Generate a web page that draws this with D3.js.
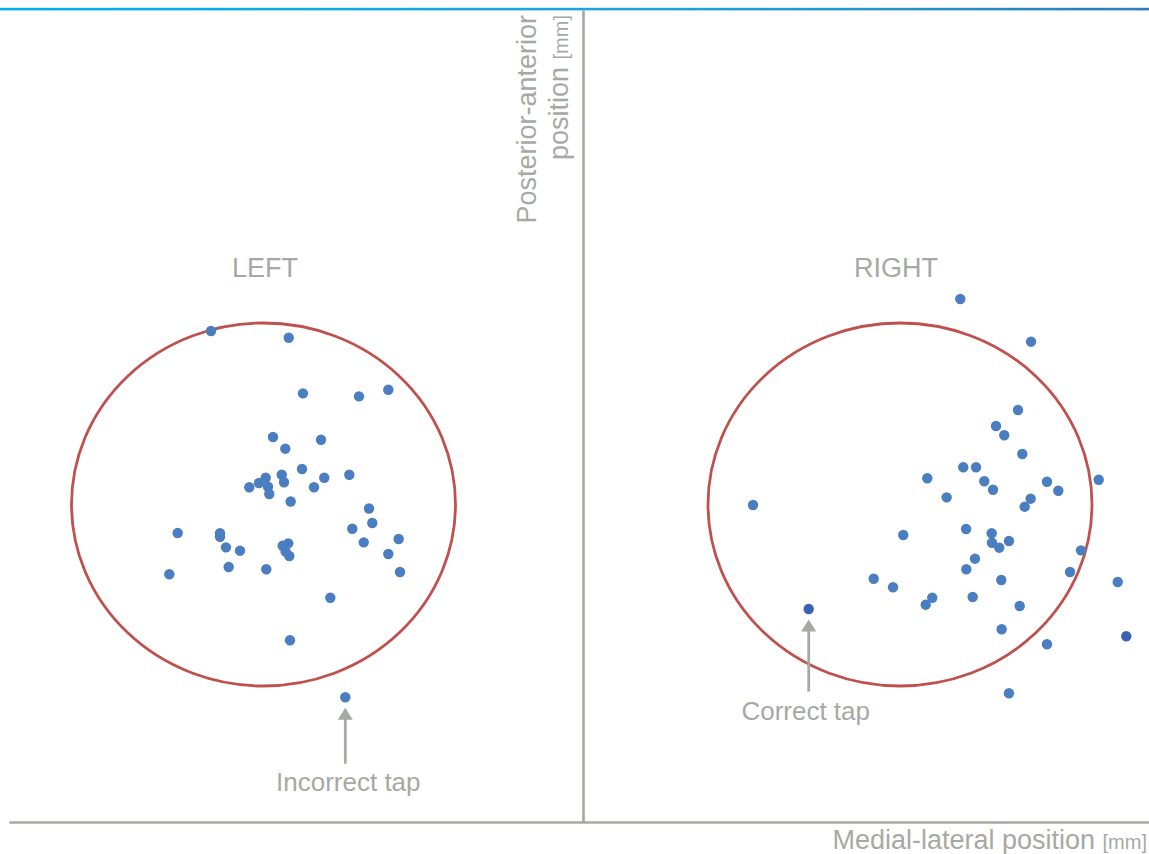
<!DOCTYPE html>
<html>
<head>
<meta charset="utf-8">
<script src="https://cdn.jsdelivr.net/npm/d3@7"></script>
<style>
  html, body { margin: 0; padding: 0; background: #ffffff; }
  svg { display: block; font-family: "Liberation Sans", Arial, Helvetica, sans-serif; }
</style>
</head>
<body>
<svg id="chart" width="1149" height="854"></svg>
<script>
// ---- Data (positions relative to target centre, mm) ----
const panels = ["LEFT", "RIGHT"];
const leftX = [-5.47, 2.63, 4.11, 9.95, 13.0, 0.99, 5.99, 2.27, 4.01, 8.94, 6.33, 1.90, 2.14, 0.23, -0.47, 0.47, -1.48, 0.60, 5.26, 2.83, 10.99, 11.33, 9.25, 14.08, 10.44, 13.0, 14.22, -8.94, -4.53, -4.53, -3.91, -2.45, -3.63, -9.81, 0.29, 2.0, 2.58, 2.31, 2.69, 6.96, 2.76, 8.52];
const leftY = [19.12, 18.38, 12.25, 11.92, 12.65, 7.44, 7.14, 6.15, 3.91, 3.28, 2.95, 3.28, 2.45, 2.95, 2.37, 1.96, 1.90, 1.16, 1.90, 0.33, -0.44, -2.04, -2.67, -3.80, -4.17, -5.45, -7.44, -3.14, -3.17, -3.55, -4.72, -5.09, -6.89, -7.69, -7.14, -4.54, -4.28, -5.20, -5.67, -10.27, -14.96, -21.24];
const rightX = [6.28, 13.65, 12.29, 10.0, 10.86, 12.74, 6.59, 7.92, 2.84, 8.78, 9.69, 15.31, 16.49, 20.70, 4.86, 13.61, 12.99, -15.31, 0.34, 6.88, 9.55, 9.58, 10.34, 11.35, 18.85, 7.81, 6.91, 17.71, 22.68, 10.55, -2.74, -0.73, 3.36, 2.68, 7.57, 12.47, -9.51, 10.59, 23.57, 15.31, 11.35];
const rightY = [22.64, 17.94, 10.41, 8.65, 7.63, 5.56, 4.10, 4.10, 2.89, 2.56, 1.63, 2.51, 1.52, 2.73, 0.79, 0.64, -0.24, -0.06, -3.36, -2.70, -3.17, -4.21, -4.76, -4.02, -5.05, -5.97, -7.14, -7.44, -8.54, -8.32, -8.18, -9.12, -10.27, -11.04, -10.19, -11.18, -11.52, -13.75, -14.52, -15.40, -20.80];
const rightDark = [36, 38];          // indices of darker-marked taps
const targetRadius = 20;             // mm
const annotations = [
  { panel: 0, index: 41, label: "Incorrect tap" },
  { panel: 1, index: 36, label: "Correct tap" }
];
const xAxisLabel = "Medial-lateral position ";
const yAxisLabel = ["Posterior-anterior", "position "];
const unitLabel = "[mm]";

// ---- Layout ----
const W = 1149, H = 854;
const grey = "#a6a9a2";
const dotColor = "#4a7ec0";
const dotDark = "#3a60b2";
const ringColor = "#c0504d";
const svg = d3.select("#chart");

const defs = svg.append("defs");
const grad = defs.append("linearGradient").attr("id", "topgrad")
  .attr("x1", "0%").attr("x2", "100%").attr("y1", "0%").attr("y2", "0%");
grad.append("stop").attr("offset", "0%").attr("stop-color", "#00aee8");
grad.append("stop").attr("offset", "55%").attr("stop-color", "#1ea4dc");
grad.append("stop").attr("offset", "100%").attr("stop-color", "#2c7fbf");

svg.append("rect").attr("x", 0).attr("y", 7.8).attr("width", W).attr("height", 2.6)
  .attr("fill", "url(#topgrad)");

const centersX = [263.5, 900];
const pxPerMmX = 9.6, pxPerMmY = 9.075;
const cy = 504.5;
const yScale = d3.scaleLinear().domain([-35, 35]).range([cy + 35 * pxPerMmY, cy - 35 * pxPerMmY]);
const xScales = centersX.map(c => d3.scaleLinear().domain([-30, 30]).range([c - 30 * pxPerMmX, c + 30 * pxPerMmX]));

// ---- Axes (no ticks) ----
const hScale = d3.scaleLinear().domain([0, 1]).range([9, W]);
svg.append("g").attr("transform", "translate(0,822)")
  .call(d3.axisBottom(hScale).tickValues([]).tickSizeOuter(0))
  .call(g => g.select(".domain").attr("stroke", grey).attr("stroke-width", 2.6));
const vScale = d3.scaleLinear().domain([0, 1]).range([822, 10]);
svg.append("g").attr("transform", "translate(583,0)")
  .call(d3.axisLeft(vScale).tickValues([]).tickSizeOuter(0))
  .call(g => g.select(".domain").attr("stroke", grey).attr("stroke-width", 2.6));

// Axis labels
const xl = svg.append("text").attr("x", 1147).attr("y", 849).attr("text-anchor", "end")
  .attr("fill", grey).attr("font-size", 27).text(xAxisLabel);
xl.append("tspan").attr("font-size", 20).text(unitLabel);

const ylx = [536, 568];
yAxisLabel.forEach((t, i) => {
  const el = svg.append("text")
    .attr("transform", `translate(${ylx[i]},15) rotate(-90)`)
    .attr("text-anchor", "end").attr("fill", grey).attr("font-size", 27).text(t);
  if (i === 1) el.append("tspan").attr("font-size", 20).text(unitLabel);
});

// ---- Panels ----
const datasets = [
  leftX.map((x, i) => ({ x, y: leftY[i], dark: false })),
  rightX.map((x, i) => ({ x, y: rightY[i], dark: rightDark.includes(i) }))
];

panels.forEach((name, p) => {
  const xs = xScales[p];
  const g = svg.append("g");
  g.append("text").attr("x", xs(0) + (p === 0 ? 1.5 : -4)).attr("y", 277)
    .attr("text-anchor", "middle").attr("fill", grey).attr("font-size", 27).text(name);
  g.append("ellipse")
    .attr("cx", xs(0)).attr("cy", yScale(0))
    .attr("rx", xs(targetRadius) - xs(0)).attr("ry", yScale(0) - yScale(targetRadius))
    .attr("fill", "none").attr("stroke", ringColor).attr("stroke-width", 2.8);
  g.selectAll("circle.tap").data(datasets[p]).join("circle")
    .attr("class", "tap")
    .attr("cx", d => xs(d.x)).attr("cy", d => yScale(d.y))
    .attr("r", 5.2)
    .attr("fill", d => d.dark ? dotDark : dotColor);
});

// ---- Annotations ----
const arrowStyle = [{ shaft: 56, text: 83, dx: 3 }, { shaft: 72, text: 100, dx: -3 }];
annotations.forEach((a, k) => {
  const d = datasets[a.panel][a.index];
  const st = arrowStyle[k];
  const px = xScales[a.panel](d.x), py = yScale(d.y);
  const tipY = py + 10.5, baseY = tipY + 12, endY = tipY + st.shaft;
  svg.append("line").attr("x1", px).attr("x2", px).attr("y1", baseY - 1).attr("y2", endY)
    .attr("stroke", grey).attr("stroke-width", 2.8);
  svg.append("path")
    .attr("d", `M${px},${tipY} L${px - 7.5},${baseY} L${px + 7.5},${baseY} Z`)
    .attr("fill", grey);
  svg.append("text").attr("x", px + st.dx).attr("y", tipY + st.text)
    .attr("text-anchor", "middle").attr("fill", grey).attr("font-size", 26).text(a.label);
});
</script>
</body>
</html>
